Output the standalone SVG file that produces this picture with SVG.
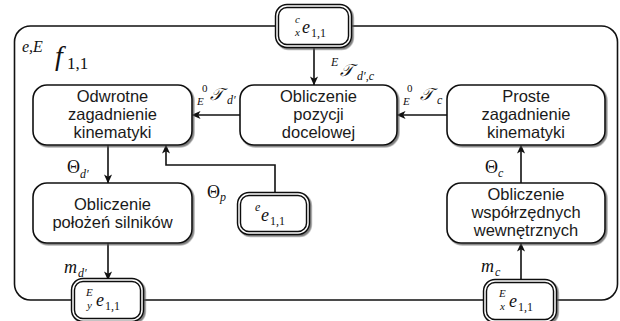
<svg xmlns="http://www.w3.org/2000/svg" width="620" height="321" viewBox="0 0 620 321">
<defs>
<style>
.frame{fill:none;stroke:#111;stroke-width:1.6}
.box{fill:#fff;stroke:#111;stroke-width:1.6;filter:url(#sh)}
.pout{fill:#fff;stroke:#111;stroke-width:4.4;filter:url(#sh)}
.pin{fill:none;stroke:#fff;stroke-width:1.5}
.edge{fill:none;stroke:#111;stroke-width:1.6;marker-end:url(#arr)}
.lbl{font-family:'Liberation Sans',Arial,sans-serif;font-size:16.5px;fill:#1a1a1a;text-anchor:middle}
.m text{font-family:'Liberation Serif','Times New Roman',serif;font-style:italic;fill:#111}
.m text.n{font-style:normal}
.m text.s{font-size:12px}
.m text.t{font-size:11px}
.m text.b{font-size:18px}
.m text.cal{font-family:'DejaVu Serif',serif;font-size:17px}
</style>
<filter id="sh" x="-10%" y="-10%" width="125%" height="130%">
<feDropShadow dx="1.6" dy="1.6" stdDeviation="0.7" flood-color="#555" flood-opacity="0.75"/>
</filter>
<marker id="arr" viewBox="0 0 10 10" refX="9.5" refY="5" markerWidth="9" markerHeight="9" markerUnits="userSpaceOnUse" orient="auto">
<path d="M0,0.5 L10,5 L0,9.5 L2.6,5 z" fill="#111"/>
</marker>
</defs>

<!-- outer block frame -->
<rect class="frame" x="14.5" y="26" width="603" height="274" rx="16"/>
<g id="frame-label" class="m">
<text x="22" y="52" font-size="16">e,E</text>
<text x="55" y="65" font-size="28">f</text>
<text class="n" x="67" y="69" font-size="17">1,1</text>
</g>

<!-- connectors -->
<g id="edges">
<path class="edge" d="M314,46 V85"/>
<path class="edge" d="M240,115 H192"/>
<path class="edge" d="M447,115 H397"/>
<path class="edge" d="M108,145 V183"/>
<path class="edge" d="M108,243 V280"/>
<path class="edge" d="M521,281 V243"/>
<path class="edge" d="M521,183 V145"/>
<path class="edge" d="M275,194 V165 H166 V145"/>
</g>

<!-- connector labels -->
<g id="edge-labels" class="m">
<text class="s" x="331" y="66">E</text>
<text class="cal" x="340" y="76">𝒯</text>
<text class="s" x="357" y="80">d′,c</text>

<text class="t n" x="202" y="92">0</text>
<text class="t" x="197" y="105">E</text>
<text class="cal" x="210" y="100">𝒯</text>
<text class="s" x="227" y="104">d′</text>

<text class="t n" x="407" y="92">0</text>
<text class="t" x="403" y="105">E</text>
<text class="cal" x="420" y="100">𝒯</text>
<text class="s" x="437" y="104">c</text>

<text class="b n" x="67" y="173">Θ</text>
<text class="s" x="80" y="178">d′</text>

<text class="b n" x="207" y="198">Θ</text>
<text class="s" x="220" y="201">p</text>

<text class="b n" x="485" y="173">Θ</text>
<text class="s" x="498" y="177">c</text>

<text class="b" x="64" y="273">m</text>
<text class="s" x="78" y="277">d′</text>

<text class="b" x="481" y="272">m</text>
<text class="s" x="495" y="276">c</text>
</g>

<!-- processing blocks -->
<g id="odwrotne">
<rect class="box" x="33" y="85" width="159" height="60" rx="14"/>
<text class="lbl" x="112.5" y="102">Odwrotne</text>
<text class="lbl" x="112.5" y="120">zagadnienie</text>
<text class="lbl" x="112.5" y="138">kinematyki</text>
</g>
<g id="pozycja">
<rect class="box" x="240" y="85" width="157" height="60" rx="14"/>
<text class="lbl" x="318.5" y="102">Obliczenie</text>
<text class="lbl" x="318.5" y="120">pozycji</text>
<text class="lbl" x="318.5" y="138">docelowej</text>
</g>
<g id="proste">
<rect class="box" x="447" y="85" width="158" height="60" rx="14"/>
<text class="lbl" x="526" y="102">Proste</text>
<text class="lbl" x="526" y="120">zagadnienie</text>
<text class="lbl" x="526" y="138">kinematyki</text>
</g>
<g id="silniki">
<rect class="box" x="33" y="183" width="159" height="60" rx="14"/>
<text class="lbl" x="112.5" y="210">Obliczenie</text>
<text class="lbl" x="112.5" y="228">położeń silników</text>
</g>
<g id="wewnetrzne">
<rect class="box" x="447" y="183" width="158" height="60" rx="14"/>
<text class="lbl" x="526" y="200">Obliczenie</text>
<text class="lbl" x="526" y="218">współrzędnych</text>
<text class="lbl" x="526" y="236">wewnętrznych</text>
</g>

<!-- buffer ports -->
<g id="port-cx">
<rect class="pout" x="277" y="6" width="73" height="40" rx="10"/>
<rect class="pin" x="277" y="6" width="73" height="40" rx="10"/>
<g class="m">
<text class="t" x="295" y="22.5">c</text>
<text class="t" x="295" y="35.5">x</text>
<text class="b" x="302" y="33">e</text>
<text class="s n" x="311" y="37">1,1</text>
</g>
</g>
<g id="port-e">
<rect class="pout" x="239" y="194" width="69" height="39" rx="10"/>
<rect class="pin" x="239" y="194" width="69" height="39" rx="10"/>
<g class="m">
<text class="s" x="255" y="211">e</text>
<text class="b" x="261" y="221">e</text>
<text class="s n" x="270" y="225">1,1</text>
</g>
</g>
<g id="port-ey">
<rect class="pout" x="73" y="280" width="69" height="40" rx="10"/>
<rect class="pin" x="73" y="280" width="69" height="40" rx="10"/>
<g class="m">
<text class="t" x="86" y="295.5">E</text>
<text class="t" x="87" y="308.5">y</text>
<text class="b" x="96" y="306">e</text>
<text class="s n" x="105" y="310">1,1</text>
</g>
</g>
<g id="port-ex">
<rect class="pout" x="485" y="281" width="70" height="40" rx="10"/>
<rect class="pin" x="485" y="281" width="70" height="40" rx="10"/>
<g class="m">
<text class="t" x="499" y="296.5">E</text>
<text class="t" x="500" y="309.5">x</text>
<text class="b" x="509" y="307">e</text>
<text class="s n" x="518" y="311">1,1</text>
</g>
</g>
</svg>
